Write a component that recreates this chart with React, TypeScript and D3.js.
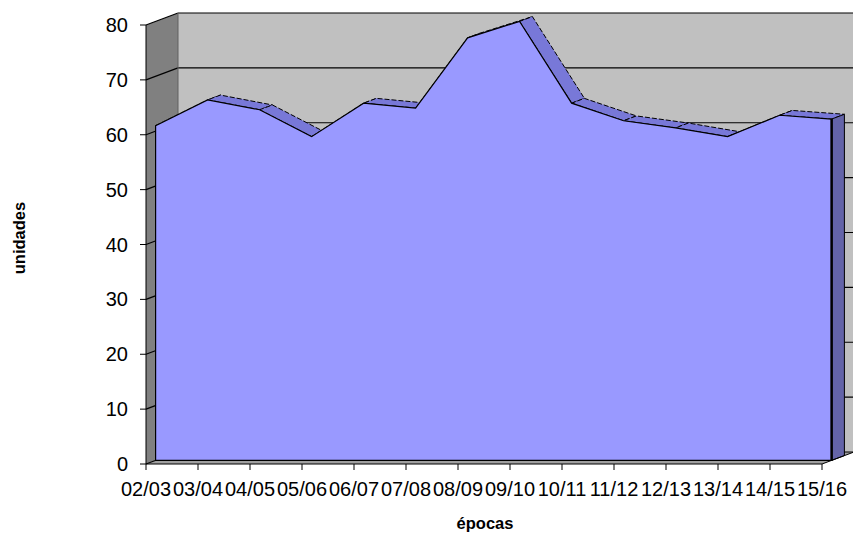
import React from 'react'
import * as d3 from 'd3'

const categories = ['02/03', '03/04', '04/05', '05/06', '06/07', '07/08', '08/09', '09/10', '10/11', '11/12', '12/13', '13/14', '14/15', '15/16']
const values = [61, 65.7, 63.9, 59, 65.1, 64.2, 77, 80, 65.1, 61.9, 60.6, 59, 62.9, 62.2]
const yTicks = [0, 10, 20, 30, 40, 50, 60, 70, 80]

const W = 853
const H = 541
const font = '"Liberation Sans", Arial, sans-serif'

// oblique depth of the whole box
const DX = 32
const DY = -12
// where the series sits inside the depth
const F0 = 0.3
const F1 = 0.7

const App: React.FC = () => {
  const x = d3.scalePoint<string>().domain(categories).range([146, 822])
  const y = d3.scaleLinear().domain([0, 80]).range([464, 25])

  const fx = (i: number, f: number) => (x(categories[i]) as number) + DX * f
  const fy = (v: number, f: number) => y(v) + DY * f

  const front = d3.area<number>()
    .x((d, i) => fx(i, F0))
    .y0(fy(0, F0))
    .y1(d => fy(d, F0))

  const n = values.length
  const strips = d3.range(n - 1).map(i => [
    [fx(i, F0), fy(values[i], F0)],
    [fx(i + 1, F0), fy(values[i + 1], F0)],
    [fx(i + 1, F1), fy(values[i + 1], F1)],
    [fx(i, F1), fy(values[i], F1)],
  ])
  const poly = (pts: number[][]) => 'M' + pts.map(p => p.join(',')).join('L') + 'Z'

  const last = n - 1
  const endFace = [
    [fx(last, F0), fy(values[last], F0)],
    [fx(last, F1), fy(values[last], F1)],
    [fx(last, F1), fy(0, F1)],
    [fx(last, F0), fy(0, F0)],
  ]

  const x0 = 146
  const x1 = 822
  const backWall = [[x0 + DX, y(80) + DY], [x1 + DX + 40, y(80) + DY], [x1 + DX + 40, y(0) + DY], [x0 + DX, y(0) + DY]]
  const sideWall = [[x0, y(0)], [x0, y(80)], [x0 + DX, y(80) + DY], [x0 + DX, y(0) + DY]]
  const floor = [[x0, y(0)], [x1, y(0)], [x1 + DX, y(0) + DY], [x0 + DX, y(0) + DY]]

  return (
    <svg width={W} height={H} style={{ position: 'absolute', left: 0, top: 0 }}>
      <rect width={W} height={H} fill="#fff" />
      <path d={poly(backWall)} fill="#C0C0C0" />
      <path d={poly(sideWall)} fill="#808080" />
      <path d={poly(floor)} fill="#A0A0A0" />
      {yTicks.map(t => (
        <g key={t}>
          <line x1={x0 + DX} x2={W} y1={y(t) + DY} y2={y(t) + DY} stroke="#000" strokeWidth={1.2} />
          <line x1={x0} x2={x0 + DX} y1={y(t)} y2={y(t) + DY} stroke="#000" strokeWidth={1.2} />
        </g>
      ))}
      <line x1={x0 + DX} x2={x0 + DX} y1={y(80) + DY} y2={y(0) + DY} stroke="#606060" strokeWidth={1} />

      {strips.map((s, i) => (
        <path key={i} d={poly(s)} fill="#7878D8" stroke="#000" strokeWidth={1} strokeDasharray="5 2" />
      ))}
      <path d={poly(endFace)} fill="#6464A8" stroke="#000" strokeWidth={1} />
      <path d={front(values) as string} fill="#9999FF" stroke="#000" strokeWidth={1.2} />
      <line x1={fx(last, F0)} x2={fx(last, F0)} y1={fy(values[last], F0)} y2={fy(0, F0)} stroke="#000" strokeWidth={2.5} />

      {/* axes */}
      <line x1={x0} x2={x0} y1={y(0)} y2={y(80)} stroke="#000" />
      <line x1={x0} x2={x1} y1={y(0)} y2={y(0)} stroke="#000" />
      <line x1={x1} x2={x1 + DX} y1={y(0)} y2={y(0) + DY} stroke="#000" />
      {yTicks.map(t => (
        <g key={'y' + t}>
          <line x1={x0 - 6} x2={x0} y1={y(t)} y2={y(t)} stroke="#000" />
          <text x={x0 - 18} y={y(t)} dy="0.35em" textAnchor="end" fontFamily={font} fontSize={20}>{t}</text>
        </g>
      ))}
      {categories.map(c => (
        <g key={c}>
          <line x1={x(c)} x2={x(c)} y1={y(0)} y2={y(0) + 6} stroke="#000" />
          <text x={x(c)} y={y(0) + 32} textAnchor="middle" fontFamily={font} fontSize={20}>{c}</text>
        </g>
      ))}
      <text transform="translate(25,238) rotate(-90)" textAnchor="middle" fontFamily={font} fontSize={16.5} fontWeight="bold">unidades</text>
      <text x={485} y={529} textAnchor="middle" fontFamily={font} fontSize={16.5} fontWeight="bold">épocas</text>
    </svg>
  )
}

export default App
